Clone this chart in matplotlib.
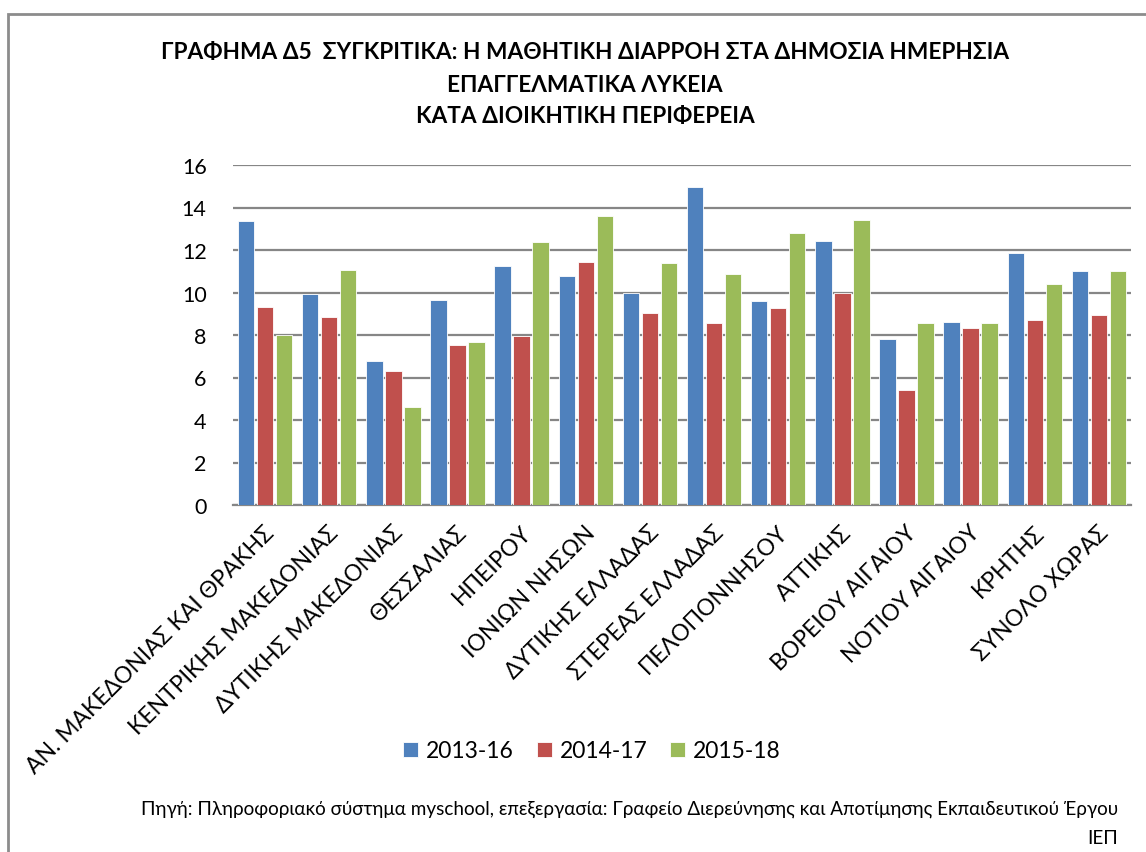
import numpy as np
import matplotlib.pyplot as plt
import matplotlib.transforms as mtransforms
from matplotlib.patches import Rectangle

plt.rcParams['font.family'] = ['Lato', 'DejaVu Sans']

regions = [
    'ΑΝ. ΜΑΚΕΔΟΝΙΑΣ ΚΑΙ ΘΡΑΚΗΣ', 'ΚΕΝΤΡΙΚΗΣ ΜΑΚΕΔΟΝΙΑΣ', 'ΔΥΤΙΚΗΣ ΜΑΚΕΔΟΝΙΑΣ',
    'ΘΕΣΣΑΛΙΑΣ', 'ΗΠΕΙΡΟΥ', 'ΙΟΝΙΩΝ ΝΗΣΩΝ', 'ΔΥΤΙΚΗΣ ΕΛΛΑΔΑΣ', 'ΣΤΕΡΕΑΣ ΕΛΛΑΔΑΣ',
    'ΠΕΛΟΠΟΝΝΗΣΟΥ', 'ΑΤΤΙΚΗΣ', 'ΒΟΡΕΙΟΥ ΑΙΓΑΙΟΥ', 'ΝΟΤΙΟΥ ΑΙΓΑΙΟΥ', 'ΚΡΗΤΗΣ',
    'ΣΥΝΟΛΟ ΧΩΡΑΣ',
]
v_2013_16 = [13.35, 9.94, 6.79, 9.63, 11.24, 10.76, 9.99, 14.95, 9.60, 12.43, 7.80, 8.61, 11.85, 11.01]
v_2014_17 = [9.33, 8.85, 6.32, 7.51, 7.95, 11.43, 9.02, 8.58, 9.28, 9.96, 5.39, 8.34, 8.72, 8.94]
v_2015_18 = [7.98, 11.08, 4.59, 7.69, 12.40, 13.59, 11.38, 10.88, 12.78, 13.39, 8.58, 8.58, 10.40, 10.99]
series_names = ['2013-16', '2014-17', '2015-18']
colors = ['#4F81BD', '#C0504D', '#9BBB59']

fig = plt.figure(figsize=(11.46, 8.53), dpi=100)
ax = fig.add_axes([233 / 1146, 1 - 506 / 853, (1131 - 233) / 1146, (506 - 166) / 853])

x = np.arange(len(regions))
step = 0.296
for i, (vals, name, c) in enumerate(zip([v_2013_16, v_2014_17, v_2015_18], series_names, colors)):
    ax.bar(x + (i - 1) * step, vals, width=0.255, color=c, edgecolor='white',
           linewidth=0.6, label=name, zorder=3)

ax.set_xlim(-0.5, len(regions) - 0.5)
ax.set_ylim(0, 16)
ax.set_yticks(range(0, 17, 2))
ax.grid(axis='y', color='#868686', linewidth=1.6, zorder=0)
for s in ['top', 'right', 'left']:
    ax.spines[s].set_visible(False)
ax.spines['bottom'].set_color('#868686')
ax.spines['bottom'].set_linewidth(1.6)
ax.tick_params(axis='both', length=0)
ax.tick_params(axis='y', pad=19, labelsize=15.5)
ax.set_xticks(x)
ax.set_xticklabels(regions, rotation=45, ha='right', va='center',
                   rotation_mode='anchor', fontsize=16.5)
ax.tick_params(axis='x', pad=17)
# nudge the slanted region names a little to the right
shift = mtransforms.ScaledTranslation(0.06, 0, fig.dpi_scale_trans)
for lbl in ax.get_xticklabels():
    lbl.set_transform(lbl.get_transform() + shift)

title_lines = [
    'ΓΡΑΦΗΜΑ Δ5  ΣΥΓΚΡΙΤΙΚΑ: Η ΜΑΘΗΤΙΚΗ ΔΙΑΡΡΟΗ ΣΤΑ ΔΗΜΟΣΙΑ ΗΜΕΡΗΣΙΑ',
    'ΕΠΑΓΓΕΛΜΑΤΙΚΑ ΛΥΚΕΙΑ',
    'ΚΑΤΑ ΔΙΟΙΚΗΤΙΚΗ ΠΕΡΙΦΕΡΕΙΑ',
]
for k, line in enumerate(title_lines):
    fig.text(585 / 1146, 1 - (53 + 32 * k) / 853, line,
             ha='center', va='center', fontsize=16.3, fontweight='bold')

fig.legend(loc='center', bbox_to_anchor=(592 / 1146, 1 - 752 / 853), ncol=3,
           frameon=False, fontsize=16.5, handlelength=0.65, handleheight=0.65,
           handletextpad=0.35, columnspacing=1.0)

fig.text(1118 / 1146, 1 - 809 / 853,
         'Πηγή: Πληροφοριακό σύστημα myschool, επεξεργασία: Γραφείο Διερεύνησης και Αποτίμησης Εκπαιδευτικού Έργου',
         ha='right', va='center', fontsize=13.6)
fig.text(1118 / 1146, 1 - 839 / 853, 'ΙΕΠ', ha='right', va='center', fontsize=13.6)

# chart frame
fig.patches.append(Rectangle((8 / 1146, -0.1), 1.2, 1 - 15 / 853 + 0.1,
                             transform=fig.transFigure, fill=False,
                             edgecolor='#8c8c8c', linewidth=2))

fig.savefig('out.png', dpi=100)
